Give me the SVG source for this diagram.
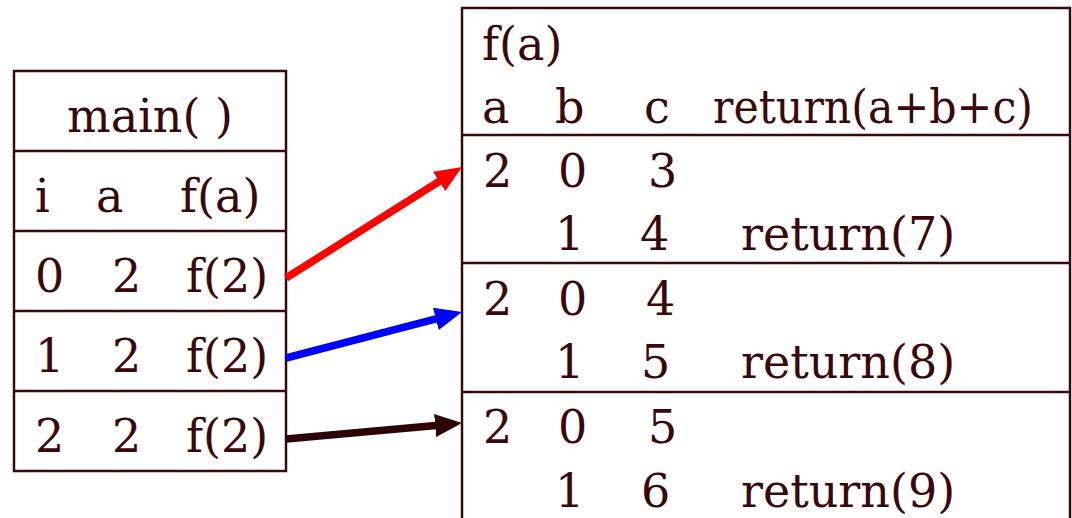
<svg xmlns="http://www.w3.org/2000/svg" width="1072" height="518" viewBox="0 0 1072 518">
<style>
  text { font-family: "DejaVu Serif", "Liberation Serif", serif; font-size: 46px; fill: #3a0808; }
  .box { fill: none; stroke: #3a0808; stroke-width: 2.5; }
  .arr { fill: none; stroke-width: 7.5; }
</style>
<defs>
  <marker id="hr" viewBox="0 0 27 23" refX="12" refY="11.5" markerWidth="27" markerHeight="23" markerUnits="userSpaceOnUse" orient="auto"><path d="M0,0 L27,11.5 L0,23 z" fill="#ff0000"/></marker>
  <marker id="hb" viewBox="0 0 27 23" refX="12" refY="11.5" markerWidth="27" markerHeight="23" markerUnits="userSpaceOnUse" orient="auto"><path d="M0,0 L27,11.5 L0,23 z" fill="#0000ff"/></marker>
  <marker id="hk" viewBox="0 0 27 23" refX="12" refY="11.5" markerWidth="27" markerHeight="23" markerUnits="userSpaceOnUse" orient="auto"><path d="M0,0 L27,11.5 L0,23 z" fill="#2d0404"/></marker>
</defs>
<rect width="1072" height="518" fill="#ffffff"/>
<g id="main-table">
  <rect class="box" x="14" y="71" width="272" height="400"/>
  <line class="box" x1="14" y1="151" x2="286" y2="151"/>
  <line class="box" x1="14" y1="231" x2="286" y2="231"/>
  <line class="box" x1="14" y1="311" x2="286" y2="311"/>
  <line class="box" x1="14" y1="391" x2="286" y2="391"/>
  <text x="150" y="132" text-anchor="middle">main( )</text>
  <text x="35" y="212">i</text><text x="96" y="212">a</text><text x="180" y="212">f(a)</text>
  <text x="35" y="292">0</text><text x="112" y="292">2</text><text x="186" y="292">f(2)</text>
  <text x="35" y="372">1</text><text x="112" y="372">2</text><text x="186" y="372">f(2)</text>
  <text x="35" y="452">2</text><text x="112" y="452">2</text><text x="186" y="452">f(2)</text>
</g>
<g id="f-table">
  <path class="box" d="M462,520 L462,8 L1070,8 L1070,520"/>
  <line class="box" x1="462" y1="135" x2="1070" y2="135"/>
  <line class="box" x1="462" y1="263" x2="1070" y2="263"/>
  <line class="box" x1="462" y1="392" x2="1070" y2="392"/>
  <text x="482" y="60">f(a)</text>
  <text x="482" y="123">a</text><text x="555" y="123">b</text><text x="644" y="123">c</text><text x="713" y="123" textLength="320" lengthAdjust="spacingAndGlyphs">return(a+b+c)</text>
  <text x="483" y="187">2</text><text x="558" y="187">0</text><text x="648" y="187">3</text>
  <text x="555" y="250">1</text><text x="640" y="250">4</text><text x="741" y="250">return(7)</text>
  <text x="483" y="315">2</text><text x="558" y="315">0</text><text x="646" y="315">4</text>
  <text x="555" y="378">1</text><text x="641" y="378">5</text><text x="741" y="378">return(8)</text>
  <text x="483" y="443">2</text><text x="558" y="443">0</text><text x="648" y="443">5</text>
  <text x="555" y="507">1</text><text x="641" y="507">6</text><text x="741" y="507">return(9)</text>
</g>
<g id="connectors">
  <line class="arr" x1="286" y1="278" x2="449.3" y2="175" stroke="#ff0000" marker-end="url(#hr)"/>
  <line class="arr" x1="286" y1="358" x2="447.5" y2="315.8" stroke="#0000ff" marker-end="url(#hb)"/>
  <line class="arr" x1="286" y1="439" x2="447.1" y2="424.4" stroke="#2d0404" marker-end="url(#hk)"/>
</g>
</svg>
